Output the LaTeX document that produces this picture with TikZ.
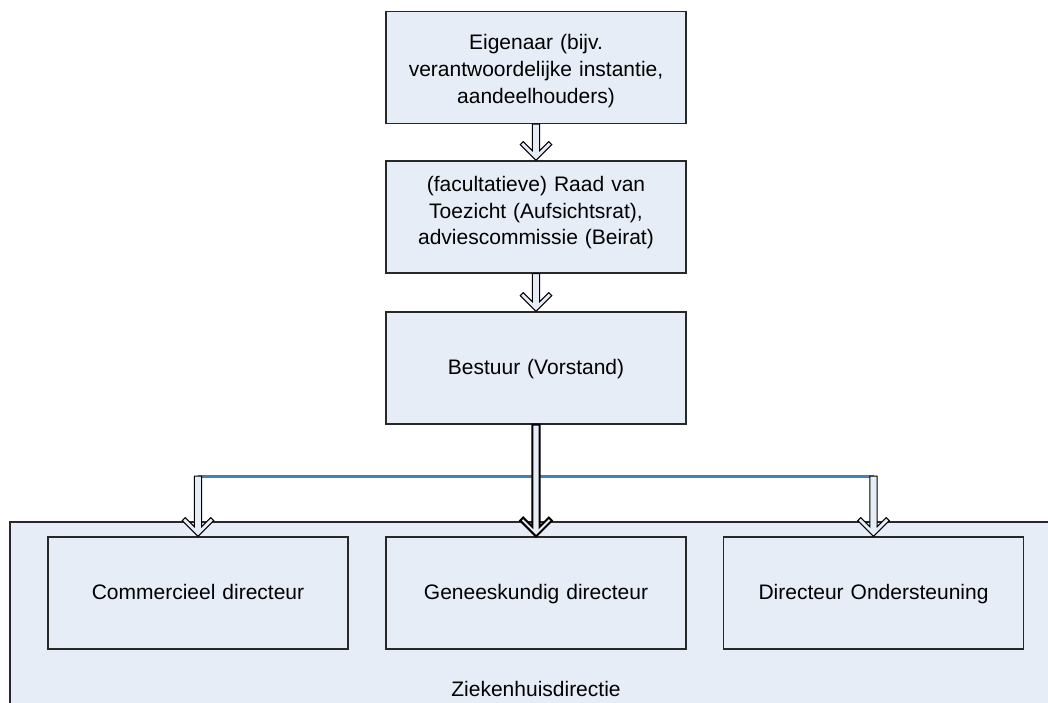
\documentclass[tikz,border=0pt]{standalone}
\usepackage{fontspec}
\setmainfont{Liberation Sans}
\usetikzlibrary{calc}
\definecolor{boxfill}{RGB}{231,237,247}
\definecolor{linkblue}{RGB}{74,126,187}
\definecolor{edge}{RGB}{40,40,40}
\newcommand\orgfont{\fontsize{10.5}{13.3}\selectfont}
\newcommand\ostrut{\rule[-3.6pt]{0pt}{13.2pt}}
\tikzset{
  orgbox/.style={draw=edge, line width=0.6pt, fill=boxfill, minimum width=150pt, minimum height=56pt,
    inner sep=0pt, align=center, font=\orgfont, text width=148pt},
  boxtext/.style={inner sep=0pt, align=center, font=\orgfont, text width=148pt},
  container/.style={draw=edge, line width=0.6pt, fill=boxfill, minimum width=525pt, minimum height=99pt, inner sep=0pt},
  barrow/.style={draw=black, line width=0.5pt, fill=boxfill, line join=miter},
  barrowthick/.style={draw=black, line width=1pt, fill=boxfill, line join=miter},
  bluelink/.style={draw=linkblue, line width=1.5pt},
  lbl/.style={font=\orgfont, inner sep=0pt}
}
\newcommand\blockarrow[3]{%
  \path[#1] let \p1=(#2), \p2=(#3) in
    (\x1-1.85pt,\y1) -- (\x1-1.85pt,\y2+4.85pt) -- (\x1-6.4pt,\y2+9.4pt) -- (\x1-7.9pt,\y2+7.9pt)
    -- (\x1,\y2)
    -- (\x1+7.9pt,\y2+7.9pt) -- (\x1+6.4pt,\y2+9.4pt) -- (\x1+1.85pt,\y2+4.85pt)
    -- (\x1+1.85pt,\y1) -- cycle;}
\begin{document}
\begin{tikzpicture}[x=0.5pt,y=-0.5pt]
\clip (0,0) rectangle (1048,702);
\useasboundingbox (0,0) rectangle (1048,702);
\fill[white] (0,0) rectangle (1048,702);
% boxes
\node[orgbox] (owner) at (536,67.5) {};
\node[boxtext] (ownertxt) at ([yshift=-1.5pt]owner.center) {\ostrut Eigenaar (bijv.\\verantwoordelijke instantie,\\aandeelhouders)\ostrut};
\node[orgbox] (board) at (536,217) {};
\node[boxtext] (boardtxt) at ([yshift=2.5pt]board.center) {\ostrut(facultatieve) Raad van\\Toezicht (Aufsichtsrat),\\adviescommissie (Beirat)\ostrut};
\node[orgbox] (exec) at (536,368) {\ostrut Bestuur (Vorstand)};
\node[container] (dir) at (535,621) {};
\node[lbl] (dirlabel) at (536,690) {\ostrut Ziekenhuisdirectie};
\node[orgbox] (comm) at (198,593) {\ostrut Commercieel directeur};
\node[orgbox] (med) at (536,593) {\ostrut Geneeskundig directeur};
\node[orgbox] (supp) at (873.5,593) {\ostrut Directeur Ondersteuning};
% blue link
\coordinate (cl) at (comm.center |- 0,476);
\coordinate (cr) at (supp.center |- 0,476);
\draw[bluelink] (cl) -- (cr);
% arrows
\blockarrow{barrow}{owner.south}{board.north}
\blockarrow{barrow}{board.south}{exec.north}
\blockarrow{barrow}{cl}{comm.north}
\blockarrow{barrow}{cr}{supp.north}
\blockarrow{barrowthick}{exec.south}{med.north}
\end{tikzpicture}
\end{document}
